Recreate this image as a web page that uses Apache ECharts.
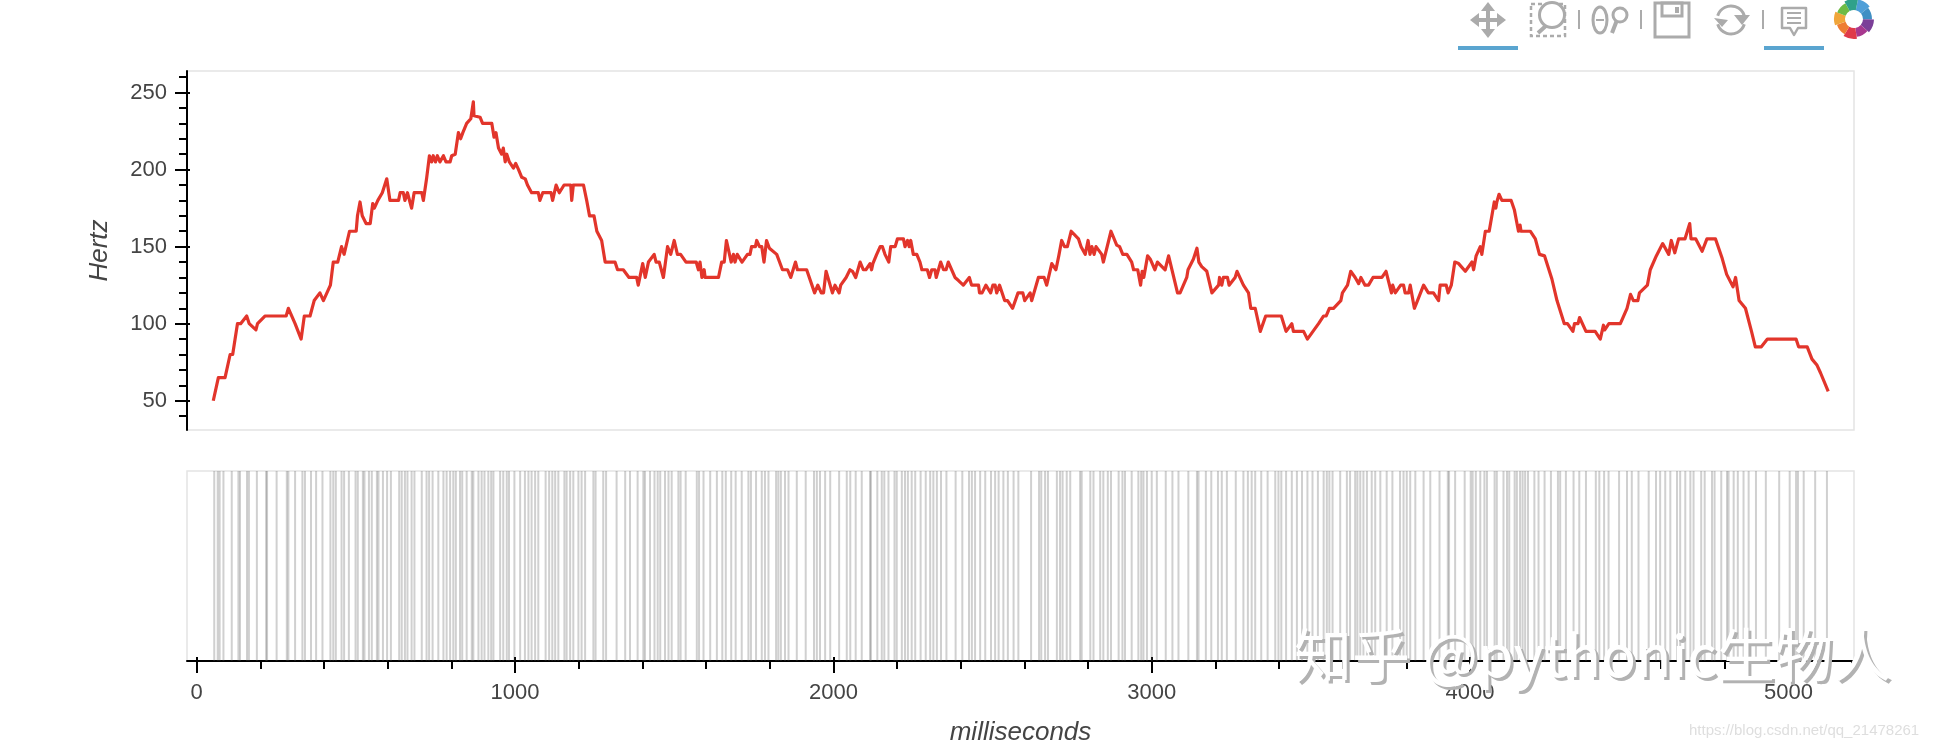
<!DOCTYPE html>
<html>
<head>
<meta charset="utf-8">
<style>html,body{margin:0;padding:0;background:#fff}#c{width:1938px;height:748px}</style>
<script src="https://cdn.jsdelivr.net/npm/echarts@6/dist/echarts.min.js"></script>
</head>
<body>
<div id="c"></div>
<script>
var pitchMs = [52,68,89,105,113,128,138,157,165,186,191,215,281,288,309,328,338,356,369,387,398,420,429,443,455,463,480,501,505,513,520,532,545,553,558,569,583,597,607,634,639,649,654,662,675,683,707,712,722,731,738,743,750,756,764,775,783,796,801,812,822,829,836,848,861,869,871,890,898,927,934,940,948,953,958,963,969,974,982,995,1002,1011,1021,1032,1039,1052,1073,1078,1087,1113,1118,1124,1129,1139,1154,1175,1178,1183,1215,1225,1234,1248,1257,1272,1283,1314,1322,1340,1358,1382,1387,1401,1409,1419,
1424,1437,1443,1453,1466,1479,1489,1500,1510,1520,1537,1569,1576,1581,1587,1594,1597,1639,1649,1657,1664,1679,1686,1691,1698,1713,1730,1738,1743,1755,1759,1768,1775,1782,1790,1799,1822,1840,1856,1866,1881,1887,1916,1941,1951,1956,1962,1969,1977,1997,2005,2018,2023,2040,2052,2060,2070,2084,2094,2102,2115,2120,2124,2136,2147,2154,2162,2174,2180,2194,2201,2220,2225,2233,2238,2243,2251,2262,2272,2278,2295,2302,2309,2319,2323,2337,2346,2354,2361,2382,2393,2408,2427,2434,2456,2459,2467,2479,2494,2501,2508,2513,2522,2538,2547,2563,2580,2595,2601,2618,2623,2644,2662,2670,2686,2699,2708,2717,2726,2735,2747,2770,2778,2791,2800,2806,2812,2819,2825,2843,2848,2872,2890,2899,2909,2922,2937,2943,2956,2965,2970,2975,2980,2987,
2995,3010,3018,3042,3053,3081,3089,3110,3114,3131,3142,3148,3157,3173,3189,3210,3213,3220,3225,3238,3243,3262,3268,3288,3304,3311,3325,3341,3358,3407,3422,3440,3445,3477,3489,3524,3540,3548,3558,3571,3594,3599,3615,3625,3639,3650,3657,3670,3681,3695,3723,3736,3753,3757,3765,3782,3791,3796,3807,3812,3825,3833,3854,3869,3885,3901,3906,3925,3931,3941,3952,3964,3985,4006,4011,4019,4032,4037,4048,4060,4076,4081,4084,4091,4100,4129,4139,4152,4157,4160,4189,4205,4210,4218,4234,4257,4273,4279,4296,4306,4323,4328,4339,4344,4364,4393,4409,4419,4423,4436,4472,4493,4504,4513,4527,4532,4557,4566,
4585,4605,4624,4632,4643,4655,4675,4690,4694,4709,4729,4744,4771,4791,4806,4826,4834,4845,4865,4884,4896,4915,4934,5024,5032,5059,5074,5090,5101,5125];
var pitchHz = [50,65,65,80,80,100,100,105,100,96,100,105,105,110,100,90,105,105,115,120,115,125,140,140,150,145,160,160,170,179,170,165,165,178,175,180,185,194,180,180,185,185,180,185,175,185,185,180,194,209,205,209,205,209,205,209,205,205,209,210,224,220,224,230,233,244,235,234,230,230,221,224,214,214,210,214,205,210,205,201,204,200,195,194,190,185,185,180,185,185,180,180,190,185,190,190,180,190,190,180,170,170,160,154,140,140,135,135,130,130,125,139,130,140,
140,145,140,140,130,150,145,154,145,145,140,140,135,140,130,135,130,130,140,140,154,140,145,140,145,140,145,145,150,150,154,150,150,140,154,149,145,135,135,130,140,135,135,120,125,125,120,120,134,120,125,120,125,130,135,134,130,140,135,135,139,135,139,145,150,150,145,140,150,150,155,155,150,154,150,154,145,145,140,135,135,130,135,135,130,140,135,135,140,130,128,125,130,125,125,120,120,125,120,125,125,120,125,115,115,110,120,120,115,120,115,130,130,125,139,135,144,154,150,150,160,155,150,145,154,145,150,145,150,145,140,160,151,150,145,145,140,135,135,125,134,130,130,144,
142,135,140,135,144,120,120,130,135,142,149,140,137,134,120,125,130,125,130,130,125,130,134,125,120,110,110,95,105,105,95,100,95,95,90,100,105,105,110,110,115,120,125,134,130,126,130,125,125,130,130,134,120,125,120,125,125,120,120,125,110,114,125,120,120,115,125,125,120,125,140,139,134,140,135,144,150,145,160,160,179,175,179,184,180,180,174,160,164,160,160,155,154,145,144,129,115,114,100,100,95,100,100,104,95,95,90,99,96,100,100,110,119,115,115,120,125,135,
144,152,145,154,146,155,155,165,155,155,147,155,155,143,132,124,130,115,110,95,85,85,90,90,85,85,77,73,68,56];
var rugMs = [55,66,72,84,110,131,136,158,164,189,218,221,251,283,288,309,332,340,359,375,395,420,429,437,455,463,478,499,506,522,527,541,550,566,571,585,598,610,636,644,654,662,675,684,707,722,730,741,759,775,785,796,806,814,827,834,848,864,869,885,895,904,916,925,932,953,963,974,981,998,1016,1031,1042,1052,1063,1073,1096,1107,1117,1126,1136,1155,1162,1173,1183,1199,1209,1220,1246,1253,1277,1286,
1319,1346,1361,1385,1403,1408,1424,1438,1448,1456,1471,1482,1492,1513,1520,1536,1571,1578,1592,1613,1634,1651,1662,1679,1693,1712,1733,1741,1757,1775,1785,1796,1820,1827,1835,1848,1859,1885,1913,1939,1948,1958,1974,1990,2018,2042,2053,2070,2089,2115,2118,2138,2152,2160,2173,2192,2199,2215,2225,2234,2246,2257,2274,2290,2304,2314,2325,2338,2355,2384,2405,2426,2435,2445,2461,2477,2495,2508,2519,2534,2548,2566,2581,
2621,2646,2653,2665,2674,2702,2712,2720,2733,2744,2775,2780,2807,2817,2838,2848,2862,2872,2896,2908,2916,2937,2958,2967,2974,2985,3000,3016,3044,3065,3084,3115,3142,3147,3170,3187,3208,3220,3236,3264,3288,3302,3314,3325,3344,3364,3388,3398,3407,3422,3440,3456,3472,3489,3505,3522,3540,3550,3558,3568,3592,3613,3623,3639,3646,3655,3665,3676,3691,3702,3718,3738,3756,3780,3791,3801,3812,3828,3854,3875,
3904,3930,3934,3953,3983,4002,4008,4018,4032,4045,4053,4077,4084,4105,4116,4123,4140,4147,4157,4165,4173,4182,4202,4215,4234,4254,4276,4283,4301,4325,4343,4364,4395,4406,4421,4435,4468,4493,4508,4529,4561,4584,4597,4613,4629,4650,4660,4676,4692,4702,4726,4737,4760,4768,4789,4807,4812,4828,4841,4859,4875,4898,4929,4971,5004,5024,5030,5048,5084,5121];
var yMajor = [50,100,150,200,250];
var yMinor = [40,60,70,80,90,110,120,130,140,160,170,180,190,210,220,230,240,260];
var xMajor = [0,1000,2000,3000,4000,5000];
var xMinor = [200,400,600,800,1200,1400,1600,1800,2200,2400,2600,2800,3200,3400,3600,3800,4200,4400,4600,4800,5200];
var xTitle = 'milliseconds', yTitle = 'Hertz';
var watermark = '知乎 @pythonic生物人', sourceUrl = 'https://blog.csdn.net/qq_21478261';

var X0 = -30.5, X1 = 5206, Y0 = 31, Y1 = 264;
var FONT = '"Liberation Sans", Arial, sans-serif';
var TXT = '#444444', GREY = '#ababab', BLUE = '#5aa5d0';
var pitch = pitchMs.map(function (m, i) { return [m, pitchHz[i]]; });
var rug = rugMs.map(function (m) { return [m]; });
function str(v) { return String(v); }
function tickAxis(extra) {
  var b = { type: 'value', min: X0, max: X1, gridIndex: 1, position: 'bottom', scale: true,
    axisLine: { show: false, onZero: false }, splitLine: { show: false }, axisLabel: { show: false } };
  for (var k in extra) b[k] = extra[k];
  return b;
}
function tickAxisY(extra) {
  var b = { type: 'value', min: Y0, max: Y1, gridIndex: 0, position: 'left', scale: true,
    axisLine: { show: false, onZero: false }, splitLine: { show: false }, axisLabel: { show: false } };
  for (var k in extra) b[k] = extra[k];
  return b;
}
var blackTick = { color: '#000', width: 2 };
var option = {
  animation: false,
  backgroundColor: '#fff',
  textStyle: { fontFamily: FONT },
  grid: [
    { left: 187, top: 71, width: 1667, height: 359, show: true, borderColor: '#e4e4e4', borderWidth: 1.5 },
    { left: 187, top: 471, width: 1667, height: 190, show: true, borderColor: '#e4e4e4', borderWidth: 1.5 }
  ],
  xAxis: [
    { type: 'value', gridIndex: 0, min: X0, max: X1, show: false },
    tickAxis({
      axisLine: { show: true, onZero: false, lineStyle: { color: '#000', width: 2 } },
      axisTick: { show: true, length: 12, lineStyle: blackTick, customValues: xMajor },
      axisLabel: { show: true, customValues: xMajor, formatter: str, color: TXT, fontSize: 22, fontFamily: FONT, margin: 21 },
      name: xTitle, nameLocation: 'middle', nameGap: 59,
      nameTextStyle: { fontSize: 26, fontStyle: 'italic', color: TXT, fontFamily: FONT }
    }),
    tickAxis({ axisTick: { show: true, length: 8, lineStyle: blackTick, customValues: xMinor } }),
    tickAxis({ axisTick: { show: true, inside: true, length: 4, lineStyle: blackTick, customValues: xMajor } })
  ],
  yAxis: [
    tickAxisY({
      axisLine: { show: true, onZero: false, lineStyle: { color: '#000', width: 2 } },
      axisTick: { show: true, length: 12, lineStyle: blackTick, customValues: yMajor },
      axisLabel: { show: true, customValues: yMajor, formatter: str, color: TXT, fontSize: 22, fontFamily: FONT, margin: 20 },
      name: yTitle, nameLocation: 'middle', nameGap: 74, nameRotate: 90,
      nameTextStyle: { fontSize: 26, fontStyle: 'italic', color: TXT, fontFamily: FONT }
    }),
    tickAxisY({ axisTick: { show: true, length: 8, lineStyle: blackTick, customValues: yMinor } }),
    tickAxisY({ axisTick: { show: true, inside: true, length: 3, lineStyle: blackTick, customValues: yMajor } }),
    { type: 'value', gridIndex: 1, min: 0, max: 1, show: false }
  ],
  series: [
    { type: 'line', xAxisIndex: 0, yAxisIndex: 0, data: pitch, showSymbol: false, symbol: 'none',
      lineStyle: { color: '#e2352b', width: 3.2, join: 'round' }, clip: true, z: 5 },
    { type: 'custom', xAxisIndex: 1, yAxisIndex: 3, data: rug, encode: { x: 0 }, clip: true, z: 1,
      renderItem: function (params, api) {
        var a = api.coord([api.value(0), 0]), b = api.coord([api.value(0), 1]);
        return { type: 'line', shape: { x1: a[0], y1: a[1], x2: b[0], y2: b[1] },
          style: { stroke: 'rgba(80,80,80,0.27)', lineWidth: 2 } };
      } }
  ],
  graphic: { elements: [].concat(toolbar(), [
    { type: 'text', z: 100, x: 1297, y: 629, style: { text: watermark, fontSize: 58, fontFamily: '"Noto Sans CJK SC", "Liberation Sans", sans-serif', fill: '#b2b2b2' } },
    { type: 'text', z: 101, x: 1294, y: 626, style: { text: watermark, fontSize: 58, fontFamily: '"Noto Sans CJK SC", "Liberation Sans", sans-serif', fill: '#ffffff' } },
    { type: 'text', z: 100, x: 1689, y: 723, style: { text: sourceUrl, fontSize: 15, fontFamily: FONT, fill: '#dedede' } }
  ]) }
};
function toolbar() {
  var st = { stroke: GREY, lineWidth: 3, fill: 'none' };
  function ln(x1, y1, x2, y2, w) { return { type: 'line', z: 50, shape: { x1: x1, y1: y1, x2: x2, y2: y2 }, style: { stroke: GREY, lineWidth: w || 3 } }; }
  function poly(p, fill) { return { type: 'polygon', z: 50, shape: { points: p }, style: { fill: fill || GREY } }; }
  function circ(cx, cy, r) { return { type: 'circle', z: 50, shape: { cx: cx, cy: cy, r: r }, style: { stroke: GREY, lineWidth: 3, fill: '#fff' } }; }
  var els = [
    { type: 'rect', z: 50, shape: { x: 1458, y: 46, width: 60, height: 4 }, style: { fill: BLUE } },
    { type: 'rect', z: 50, shape: { x: 1764, y: 46, width: 60, height: 4 }, style: { fill: BLUE } },
    /* pan */
    ln(1474, 20, 1502, 20, 4), ln(1488, 6, 1488, 34, 4),
    poly([[1488, 2], [1481, 11], [1495, 11]]), poly([[1488, 38], [1481, 29], [1495, 29]]),
    poly([[1470, 20], [1479, 13], [1479, 27]]), poly([[1506, 20], [1497, 13], [1497, 27]]),
    /* box zoom */
    { type: 'rect', z: 50, shape: { x: 1531, y: 4, width: 34, height: 32 }, style: { stroke: GREY, lineWidth: 2.5, fill: 'none', lineDash: [4, 3] } },
    ln(1548, 24, 1538, 33, 4), circ(1552, 15, 12.5),
    ln(1579, 10, 1579, 29, 2),
    /* wheel zoom */
    { type: 'ellipse', z: 50, shape: { cx: 1600, cy: 20, rx: 7, ry: 13 }, style: { stroke: GREY, lineWidth: 3, fill: 'none' } },
    ln(1596, 20, 1604, 20, 2),
    ln(1617, 20, 1612, 33, 4), circ(1620, 15, 7),
    ln(1641, 10, 1641, 29, 2),
    /* save */
    { type: 'rect', z: 50, shape: { x: 1655, y: 3, width: 34, height: 34 }, style: st },
    { type: 'rect', z: 50, shape: { x: 1662, y: 3, width: 20, height: 13 }, style: st },
    { type: 'rect', z: 50, shape: { x: 1675, y: 7, width: 4, height: 6 }, style: { fill: GREY } },
    /* reset */
    { type: 'arc', z: 50, shape: { cx: 1731, cy: 20, r: 14, startAngle: Math.PI * 1.1, endAngle: Math.PI * 1.9 }, style: { stroke: GREY, lineWidth: 3, fill: 'none' } },
    { type: 'arc', z: 50, shape: { cx: 1731, cy: 20, r: 14, startAngle: Math.PI * 0.1, endAngle: Math.PI * 0.9 }, style: { stroke: GREY, lineWidth: 3, fill: 'none' } },
    poly([[1741, 22], [1749, 12], [1733, 12]].map(function (p) { return [p[0] + 1, p[1] + 3]; })),
    poly([[1715, 18], [1723, 27], [1729, 20]].map(function (p) { return [p[0] - 1, p[1]]; })),
    ln(1763, 10, 1763, 29, 2),
    /* hover */
    { type: 'polygon', z: 50, shape: { points: [[1782, 8], [1806, 8], [1806, 28], [1798, 28], [1794, 35], [1790, 28], [1782, 28]] }, style: { stroke: GREY, lineWidth: 2.5, fill: 'none', lineJoin: 'round' } },
    ln(1787, 13, 1801, 13, 2), ln(1787, 18, 1801, 18, 2), ln(1787, 23, 1801, 23, 2)
  ];
  var cols = ['#4f9fd8', '#3f8fc4', '#7b3f98', '#a8388f', '#e03a4a', '#ee7d33', '#f0a53a', '#6dbb45', '#2fa18a'];
  for (var i = 0; i < cols.length; i++) {
    els.push({ type: 'sector', z: 50, shape: { cx: 1854, cy: 19, r: 18 + (i % 2 ? 0 : 2), r0: 9,
      startAngle: -Math.PI / 2 + i * Math.PI * 2 / 9 + 0.2, endAngle: -Math.PI / 2 + (i + 1) * Math.PI * 2 / 9 + 0.2 },
      style: { fill: cols[i] } });
  }
  return els;
}
var chart = echarts.init(document.getElementById('c'), null, { renderer: 'canvas', width: 1938, height: 748 });
chart.setOption(option);
</script>
</body>
</html>
